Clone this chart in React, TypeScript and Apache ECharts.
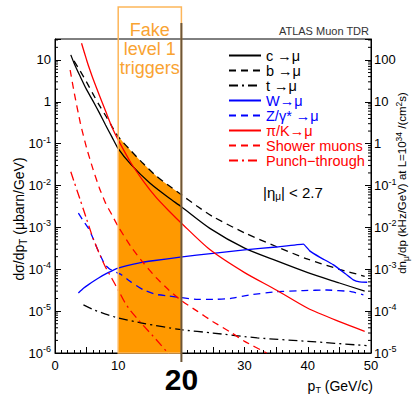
import React, { useEffect, useRef } from "react";
import * as echarts from "echarts";

const FONT = "Liberation Sans, Arial, Helvetica, sans-serif";
const NARROW = "Liberation Sans Narrow, Liberation Sans, Arial, sans-serif";

// pT values (GeV/c) and dσ/dpT (μbarn/GeV) for each source
const cPt = [2.5, 3, 4, 5, 6, 7, 8, 9, 10, 12, 15, 18, 20, 24.5, 30, 35, 40, 45, 49];
const cVal = [13.2, 8.5, 4.0, 1.95, 1.05, 0.55, 0.28, 0.145, 0.076, 0.032, 0.0115, 0.0051, 0.0031, 9.5e-4, 3.2e-4, 1.6e-4, 8.3e-5, 4.7e-5, 3.0e-5];

const bPt = [3, 4, 5, 6, 7, 8, 9, 10, 12, 14, 16, 18, 20, 22.5, 25, 30, 35, 40, 45, 49];
const bVal = [9.5, 5.4, 2.95, 1.55, 0.83, 0.47, 0.26, 0.148, 0.068, 0.033, 0.017, 0.01, 0.006, 0.0032, 0.0018, 7.4e-4, 3.5e-4, 1.74e-4, 1.0e-4, 6.8e-5];

const tPt = [4.5, 6, 8, 10, 14, 20, 25, 32, 40, 49.3];
const tVal = [1.41e-5, 1.1e-5, 8.5e-6, 6.9e-6, 5.1e-6, 3.6e-6, 3.0e-6, 2.3e-6, 1.9e-6, 1.5e-6];

const wPt = [3.7, 4.5, 5.3, 6.9, 8.4, 10, 13.2, 15.8, 19.8, 25, 30, 35, 39.3, 40.3, 42, 44, 46, 47.2, 48.2, 49.4];
const wVal = [2.7e-5, 3.5e-5, 4.3e-5, 6.2e-5, 8.3e-5, 1.07e-4, 1.41e-4, 1.62e-4, 1.95e-4, 2.4e-4, 2.9e-4, 3.4e-4, 4.0e-4, 2.75e-4, 1.9e-4, 1.29e-4, 7.7e-5, 5.6e-5, 5.0e-5, 4.9e-5];

const zPt = [3.7, 4.5, 5.3, 6, 6.9, 7.9, 8.7, 9.5, 10.5, 12, 14, 16, 18, 20, 22.5, 25, 27.7, 30.9, 35, 39.3, 43, 46.7, 48.8];
const zVal = [2.19e-3, 1.41e-3, 9.5e-4, 5.6e-4, 2.6e-4, 1.29e-4, 1.0e-4, 8.7e-5, 7.4e-5, 5.0e-5, 3.2e-5, 2.5e-5, 2.3e-5, 2.1e-5, 1.9e-5, 1.9e-5, 2.0e-5, 2.45e-5, 2.9e-5, 3.1e-5, 3.2e-5, 2.95e-5, 2.45e-5];

const piPt = [4.2, 5, 5.5, 6, 7, 8, 9, 10, 12, 14, 16, 18, 20, 24.5, 30, 35, 40, 45, 49];
const piVal = [25, 10, 5.9, 3.6, 1.45, 0.6, 0.25, 0.123, 0.035, 0.0126, 0.0052, 0.0025, 0.00126, 2.95e-4, 8.3e-5, 3.2e-5, 1.17e-5, 5.6e-6, 3.3e-6];

const shPt = [2.4, 3, 4, 5, 6, 7, 8, 9, 10, 12, 14, 16, 18, 20, 22.5, 25, 28, 30, 33.5];
const shVal = [5.75, 1.78, 0.316, 0.079, 0.025, 8.9e-3, 3.8e-3, 2.0e-3, 1.05e-3, 3.5e-4, 1.41e-4, 6.3e-5, 3.2e-5, 1.78e-5, 1.0e-5, 5.6e-6, 3.0e-6, 1.9e-6, 1.0e-6];

const ptPt = [2.5, 3, 4, 5, 6, 7, 8, 9, 10, 11, 12, 14, 16, 18];
const ptVal = [0.0214, 0.0126, 4.5e-3, 1.58e-3, 5.6e-4, 2.4e-4, 1.12e-4, 6.0e-5, 3.2e-5, 1.66e-5, 1.0e-5, 4.5e-6, 2.1e-6, 9.5e-7];

const NAMES = ["c →μ", "b →μ", "t →μ", "W→μ", "Z/γ* →μ", "π/K→μ", "Shower muons", "Punch−through"];
const COLORS = ["#000000", "#000000", "#000000", "#0000ff", "#0000ff", "#ff0000", "#ff0000", "#ff0000"];
const XTICK_LABELS = [0, 10, 30, 40, 50];
const BIG_TICK = 20;
const TRIGGER_BAND = [10, 20];

const DASH = [7, 5];
const DASHDOT = [9, 4, 2, 4];

const zip = (xs: number[], ys: number[]) => xs.map((x, i) => [x, ys[i]]);

function logLabel(v: number) {
  const lg = Math.log10(v);
  const e = Math.round(lg);
  if (Math.abs(lg - e) > 1e-6) return "";
  if (e === 0) return "{b|1}";
  if (e === 1) return "{b|10}";
  if (e === 2) return "{b|100}";
  return "{b|10}{s|" + e + "}";
}

const labelRich = {
  b: { fontSize: 13, fontFamily: FONT, color: "#000", lineHeight: 17 },
  s: { fontSize: 9, fontFamily: FONT, color: "#000", verticalAlign: "top", lineHeight: 10 },
};

export default function App() {
  const ref = useRef<HTMLDivElement>(null);
  useEffect(() => {
    document.body.style.margin = "0";
    const chart = echarts.init(ref.current!, null, { renderer: "svg" });
    const yMinL = 1e-6;
    const yMaxL = Math.pow(10, 1.5);

    const minorVals: number[][] = [];
    for (let k = -6; k <= 1; k++) {
      for (let m = 2; m <= 9; m++) {
        const v = m * Math.pow(10, k);
        if (v < yMaxL) minorVals.push([0, v]);
      }
    }

    const lineDefs = [
      { d: zip(cPt, cVal), c: COLORS[0], t: "solid" as any, s: 0.25 },
      { d: zip(bPt, bVal), c: COLORS[1], t: DASH, s: 0.25 },
      { d: zip(tPt, tVal), c: COLORS[2], t: DASHDOT, s: 0.25 },
      { d: zip(wPt, wVal), c: COLORS[3], t: "solid", s: 0.1 },
      { d: zip(zPt, zVal), c: COLORS[4], t: DASH, s: 0.1 },
      { d: zip(piPt, piVal), c: COLORS[5], t: "solid", s: 0.25 },
      { d: zip(shPt, shVal), c: COLORS[6], t: DASH, s: 0.2 },
      { d: zip(ptPt, ptVal), c: COLORS[7], t: DASHDOT, s: 0.2 },
    ];

    const fillData = zip(bPt, bVal).filter((p) => p[0] >= TRIGGER_BAND[0] && p[0] <= TRIGGER_BAND[1]);

    const series: any[] = [
      {
        name: "fill",
        type: "line",
        data: fillData,
        symbol: "none",
        smooth: 0.25,
        lineStyle: { width: 0, opacity: 0 },
        areaStyle: { color: "#ff9900", opacity: 1, origin: "start" },
        z: 1,
        silent: true,
      },
      ...lineDefs.map((s, i) => ({
        name: NAMES[i],
        type: "line",
        data: s.d,
        symbol: "none",
        smooth: s.s,
        lineStyle: { color: s.c, width: 1.3, type: s.t },
        itemStyle: { color: s.c },
        z: 3,
      })),
      {
        name: "minor",
        type: "custom",
        data: minorVals,
        encode: { x: 0, y: 1 },
        silent: true,
        z: 4,
        renderItem: (params: any, api: any) => {
          const v = api.value(1);
          const pL = api.coord([0, v]);
          const pR = api.coord([50, v]);
          return {
            type: "group",
            children: [
              { type: "line", shape: { x1: pL[0], y1: pL[1], x2: pL[0] + 3, y2: pL[1] }, style: { stroke: "#000", lineWidth: 1 } },
              { type: "line", shape: { x1: pR[0] - 3, y1: pR[1], x2: pR[0], y2: pR[1] }, style: { stroke: "#000", lineWidth: 1 } },
            ],
          };
        },
      },
    ];

    chart.setOption({
      animation: false,
      backgroundColor: "#ffffff",
      grid: { left: 55, right: 48, top: 39, bottom: 42, show: true, borderColor: "#000", borderWidth: 1, backgroundColor: "transparent" },
      xAxis: {
        type: "value",
        min: 0,
        max: 50,
        interval: 5,
        axisLine: { show: true, lineStyle: { color: "#000", width: 1 } },
        axisTick: { show: true, inside: true, length: 6, lineStyle: { color: "#000" } },
        minorTick: { show: true, splitNumber: 5, length: 3, lineStyle: { color: "#000" } },
        splitLine: { show: false },
        axisLabel: {
          margin: 6,
          fontSize: 13,
          fontFamily: FONT,
          color: "#000",
          formatter: (v: number) => (XTICK_LABELS.indexOf(v) >= 0 ? String(v) : ""),
        },
      },
      yAxis: [
        {
          type: "log",
          min: yMinL,
          max: yMaxL,
          position: "left",
          axisLine: { show: true, lineStyle: { color: "#000", width: 1 } },
          axisTick: { show: true, inside: true, length: 6, lineStyle: { color: "#000" } },
          splitLine: { show: false },
          axisLabel: { formatter: logLabel, rich: labelRich, margin: 4 },
        },
        {
          type: "log",
          min: yMinL * 10,
          max: yMaxL * 10,
          position: "right",
          axisLine: { show: true, lineStyle: { color: "#000", width: 1 } },
          axisTick: { show: true, inside: true, length: 6, lineStyle: { color: "#000" } },
          splitLine: { show: false },
          axisLabel: { formatter: logLabel, rich: labelRich, margin: 3 },
        },
      ],
      legend: {
        orient: "vertical",
        left: 223,
        top: 43,
        itemWidth: 32,
        itemHeight: 14.9,
        itemGap: 0,
        selectedMode: false,
        itemStyle: { opacity: 0 },
        textStyle: { fontSize: 14.5, fontFamily: FONT, lineHeight: 14.9, height: 14.9 },
        data: NAMES.map((n, i) => ({ name: n, textStyle: { color: COLORS[i] } })),
      },
      series,
    });

    const x10 = chart.convertToPixel({ xAxisIndex: 0 }, TRIGGER_BAND[0]) as number;
    const x20 = chart.convertToPixel({ xAxisIndex: 0 }, TRIGGER_BAND[1]) as number;
    const xBig = chart.convertToPixel({ xAxisIndex: 0 }, BIG_TICK) as number;
    const yBot = chart.convertToPixel({ yAxisIndex: 0 }, yMinL) as number;
    const boxTop = 7;
    const cx = (x10 + x20) / 2;

    chart.setOption({
      graphic: [
        {
          type: "rect",
          z: 10,
          shape: { x: x10, y: boxTop, width: x20 - x10, height: yBot - boxTop },
          style: { fill: "none", stroke: "#fdb65a", lineWidth: 1.5 },
          silent: true,
        },
        {
          type: "line",
          z: 11,
          shape: { x1: x20, y1: 23, x2: x20, y2: yBot + 9 },
          style: { stroke: "#6e5636", lineWidth: 2 },
          silent: true,
        },
        {
          type: "text",
          z: 12,
          x: cx,
          y: 49,
          style: {
            text: "Fake\nlevel 1\ntriggers",
            fill: "#f9a332",
            fontSize: 18,
            fontFamily: FONT,
            lineHeight: 19,
            textAlign: "center",
            textVerticalAlign: "middle",
          },
        },
        {
          type: "text",
          z: 12,
          x: xBig,
          y: 379,
          style: {
            text: String(BIG_TICK),
            fill: "#000",
            fontSize: 30,
            lineHeight: 28,
            fontWeight: "bold",
            fontFamily: NARROW,
            textAlign: "center",
            textVerticalAlign: "middle",
          },
        },
        { type: "text", z: 12, x: 369, y: 31, style: { text: "ATLAS Muon TDR", fill: "#333", font: `11px ${FONT}`, textAlign: "right", textVerticalAlign: "middle" } },
        {
          type: "text",
          z: 12,
          x: 263,
          y: 192,
          style: {
            text: "{n||η}{sub|μ}{n|| < 2.7}",
            textVerticalAlign: "middle",
            rich: {
              n: { fontSize: 15, fontFamily: FONT, fill: "#000", lineHeight: 18 },
              sub: { fontSize: 10, fontFamily: FONT, fill: "#000", verticalAlign: "bottom", lineHeight: 12 },
            },
          },
        },
        {
          type: "text",
          z: 12,
          x: 373,
          y: 386,
          style: {
            text: "{n|p}{sub|T}{n| (GeV/c)}",
            textAlign: "right",
            textVerticalAlign: "middle",
            rich: {
              n: { fontSize: 14, fontFamily: FONT, fill: "#000", lineHeight: 17 },
              sub: { fontSize: 9, fontFamily: FONT, fill: "#000", verticalAlign: "bottom", lineHeight: 11 },
            },
          },
        },
        {
          type: "text",
          z: 12,
          x: 19,
          y: 219,
          rotation: Math.PI / 2,
          style: {
            text: "{n|dσ/dp}{sub|T}{n| (μbarn/GeV)}",
            textAlign: "center",
            textVerticalAlign: "middle",
            rich: {
              n: { fontSize: 14, fontFamily: NARROW, fill: "#000", lineHeight: 18 },
              sub: { fontSize: 10, fontFamily: NARROW, fill: "#000", verticalAlign: "bottom", lineHeight: 12 },
            },
          },
        },
        {
          type: "text",
          z: 12,
          x: 402,
          y: 183,
          rotation: Math.PI / 2,
          style: {
            text: "{n|dn}{sub|μ}{n|/dp (kHz/GeV) at L=10}{sup|34}{n| /(cm}{sup|2}{n|s)}",
            textAlign: "center",
            textVerticalAlign: "middle",
            rich: {
              n: { fontSize: 11.5, fontFamily: NARROW, fill: "#000", lineHeight: 16 },
              sub: { fontSize: 8.5, fontFamily: NARROW, fill: "#000", verticalAlign: "bottom", lineHeight: 10 },
              sup: { fontSize: 8.5, fontFamily: NARROW, fill: "#000", verticalAlign: "top", lineHeight: 10 },
            },
          },
        },
      ],
    });

    return () => chart.dispose();
  }, []);

  return <div ref={ref} style={{ position: "fixed", left: 0, top: 0, width: 419, height: 395, background: "#fff" }} />;
}
